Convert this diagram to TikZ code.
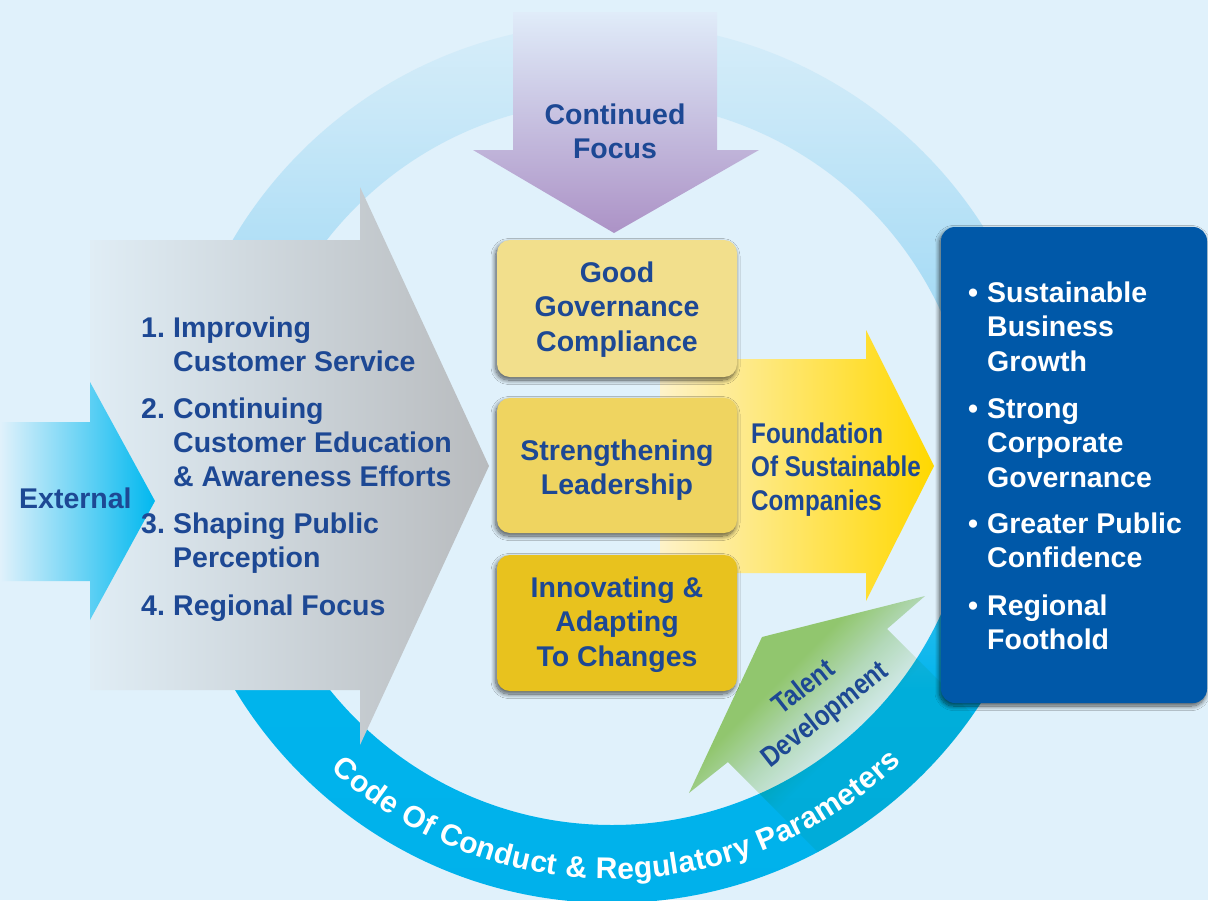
\documentclass[tikz,border=0pt]{standalone}
\usepackage{fontspec}
\setmainfont{Liberation Sans}
\newfontfamily\condf{Liberation Sans}[FakeStretch=0.85]
\usetikzlibrary{decorations.text,shadows.blur}
\definecolor{bg}{HTML}{E0F1FB}
\definecolor{ringA}{HTML}{00B1EB}
\definecolor{ringB}{HTML}{00B4EC}
\definecolor{ringC}{HTML}{55C6F0}
\definecolor{ringD}{HTML}{A6DBF5}
\definecolor{ringE}{HTML}{C9E8F8}
\definecolor{ringF}{HTML}{D6EDF9}
\definecolor{purA}{HTML}{E0ECF9}
\definecolor{purB}{HTML}{AC92C6}
\definecolor{greyA}{HTML}{E0EDF5}
\definecolor{greyB}{HTML}{B8BBBE}
\definecolor{cyanB}{HTML}{00B8EF}
\definecolor{yelA}{HTML}{FEF2C8}
\definecolor{yelB}{HTML}{FFD800}
\definecolor{boxA}{HTML}{F2DF8C}
\definecolor{boxB}{HTML}{EFD460}
\definecolor{boxC}{HTML}{E8C21E}
\definecolor{blueboxc}{HTML}{0058A8}
\definecolor{grnA}{HTML}{A6D270}
\definecolor{grnM}{HTML}{CDE6BE}
\definecolor{grnB}{HTML}{EEF7EC}
\definecolor{tblue}{HTML}{1D4894}
\pgfdeclareverticalshading{ringshade}{100bp}{color(0bp)=(ringA); color(25bp)=(ringA); color(37bp)=(ringB); color(48bp)=(ringC); color(59bp)=(ringD); color(70bp)=(ringE); color(75bp)=(ringF); color(100bp)=(ringF)}
\pgfdeclareverticalshading{grnshade}{100bp}{color(0bp)=(grnB); color(25bp)=(grnB); color(50bp)=(grnB); color(57bp)=(grnM); color(65bp)=(grnA); color(75bp)=(grnA); color(100bp)=(grnA)}
\newcommand{\mystrut}{\rule{0pt}{28pt}}
\newcommand{\ringfont}{\fontsize{30}{32}\selectfont\bfseries}
\tikzset{
  lbl/.style={inner sep=0pt, text=tblue, font=\bfseries\fontsize{28.5}{34.5}\selectfont},
  wlbl/.style={inner sep=0pt, text=white, font=\bfseries\fontsize{28.5}{34.75}\selectfont},
  clbl/.style={inner sep=0pt, text=tblue, font=\condf\bfseries\fontsize{28.5}{33.5}\selectfont},
  ybox/.style={rounded corners=13pt, inner sep=0pt, draw=none,
    blur shadow={shadow xshift=-1.5pt, shadow yshift=-3pt, shadow blur radius=4.5pt, shadow blur steps=14, shadow opacity=65}},
}
\begin{document}
\begin{tikzpicture}[x=1pt,y=-1pt]
\useasboundingbox (0,0) rectangle (1208,900);
\fill[bg] (0,0) rectangle (1208,900);
% ring
\shade[shading=ringshade, even odd rule] (612,463) circle[radius=440] (612,463) circle[radius=362];
% purple arrow
\shade[top color=purA, bottom color=purB] (513,12) -- (717,12) -- (717,150) -- (759,150) -- (614,233) -- (473,150) -- (513,150) -- cycle;
% grey arrow
\shade[left color=greyA, right color=greyB] (90,240) -- (360,240) -- (360,187) -- (489,466) -- (360,745) -- (360,690) -- (90,690) -- cycle;
% cyan arrow
\shade[left color=bg, right color=cyanB] (0,422) -- (90,422) -- (90,382) -- (155,501) -- (90,620) -- (90,581) -- (0,581) -- cycle;
% yellow arrow
\shade[left color=yelA, right color=yelB] (660,359) -- (866,359) -- (866,330) -- (934,466) -- (866,601) -- (866,573) -- (660,573) -- cycle;
% yellow boxes
\node[ybox, fill=boxA, minimum width=240pt, minimum height=137pt] (b1) at (617,308.5) {};
\node[ybox, fill=boxB, minimum width=240pt, minimum height=135pt] (b2) at (617,465.5) {};
\node[ybox, fill=boxC, minimum width=240pt, minimum height=136pt] (b3) at (617,623) {};
% green arrow
\begin{scope}
\clip (612,463) circle[radius=440];
\shade[shading=grnshade, shading angle=45, blend mode=multiply] (689,793) -- (762,637) -- (925,596) -- (887,629) -- (1007,749) -- (848,882) -- (728,762) -- cycle;
\end{scope}
% blue box
\node[ybox, rounded corners=14pt, fill=blueboxc, minimum width=266pt, minimum height=476pt] (bb) at (1074,465) {};
% ring text
\path[decorate, decoration={text along path, text={|\ringfont|Code Of Conduct {\&} Regulatory Parameters}, text align=fit to path, text color=white}] (612,463) ++(132.5:416) arc[start angle=132.5, end angle=46, radius=416];
% texts
\node[lbl, align=center, anchor=north, font=\bfseries\fontsize{28.5}{34}\selectfont] (cf) at (615,96) {\mystrut Continued\\Focus};
\node[lbl, align=center, anchor=north] (t1) at (617,254) {\mystrut Good\\Governance\\Compliance};
\node[lbl, align=center, anchor=north] (t2) at (617,432) {\mystrut Strengthening\\Leadership};
\node[lbl, align=center, anchor=north] (t3) at (617,569) {\mystrut Innovating \&\\Adapting\\To Changes};
\node[clbl, align=left, anchor=north west] (fs) at (751,415) {\mystrut Foundation\\Of Sustainable\\Companies};
\node[lbl, anchor=base west] (ext) at (19,508) {External};
\node[lbl, anchor=base west] (n1) at (141,337) {1.};
\node[lbl, anchor=base west] (n2) at (141,418) {2.};
\node[lbl, anchor=base west] (n3) at (141,533) {3.};
\node[lbl, anchor=base west] (n4) at (141,615) {4.};
\node[lbl, align=left, anchor=north west, font=\bfseries\fontsize{28.5}{34}\selectfont] (i1) at (173,309) {\mystrut Improving\\Customer Service};
\node[lbl, align=left, anchor=north west, font=\bfseries\fontsize{28.5}{34}\selectfont] (i2) at (173,390) {\mystrut Continuing\\Customer Education\\\& Awareness Efforts};
\node[lbl, align=left, anchor=north west, font=\bfseries\fontsize{28.5}{34}\selectfont] (i3) at (173,505) {\mystrut Shaping Public\\Perception};
\node[lbl, align=left, anchor=north west, font=\bfseries\fontsize{28.5}{34}\selectfont] (i4) at (173,587) {\mystrut Regional Focus};
\node[wlbl, anchor=base] (u1) at (973,302) {\textbullet};
\node[wlbl, anchor=base] (u2) at (973,418) {\textbullet};
\node[wlbl, anchor=base] (u3) at (973,533) {\textbullet};
\node[wlbl, anchor=base] (u4) at (973,615) {\textbullet};
\node[wlbl, align=left, anchor=north west] (o1) at (987,274) {\mystrut Sustainable\\Business\\Growth};
\node[wlbl, align=left, anchor=north west] (o2) at (987,390) {\mystrut Strong\\Corporate\\Governance};
\node[wlbl, align=left, anchor=north west] (o3) at (987,505) {\mystrut Greater Public\\Confidence};
\node[wlbl, align=left, anchor=north west] (o4) at (987,587) {\mystrut Regional\\Foothold};
\node[clbl, align=center, rotate=38, font=\condf\bfseries\fontsize{28.5}{34}\selectfont] (td) at (815,702) {Talent\\Development};
\end{tikzpicture}
\end{document}
